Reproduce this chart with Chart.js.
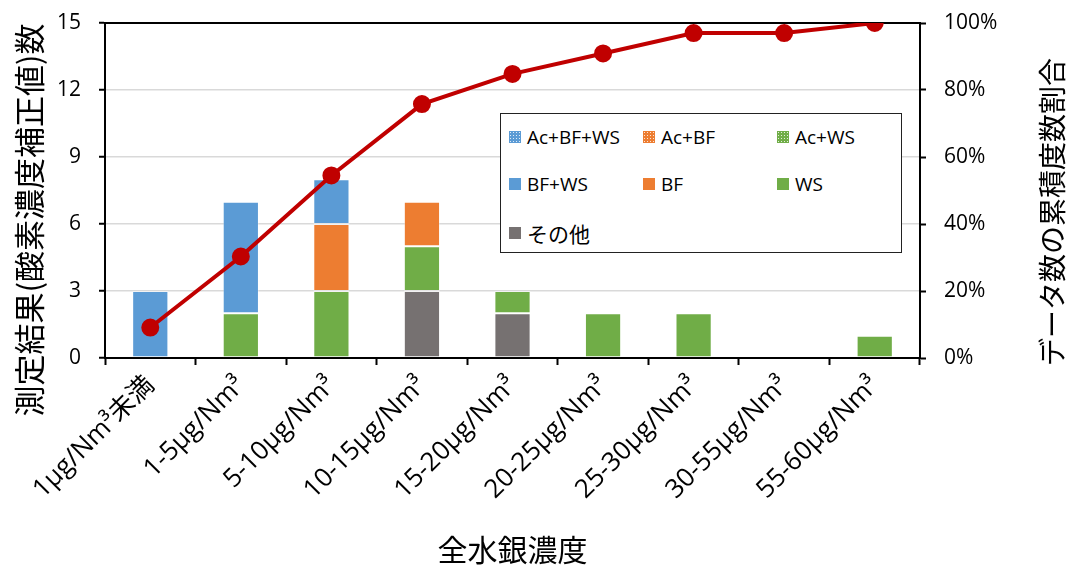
<!DOCTYPE html>
<html>
<head>
<meta charset="utf-8">
<script src="https://cdn.jsdelivr.net/npm/chart.js@4.4.0/dist/chart.umd.min.js"></script>
<style>
  body { margin: 0; background: #fff; }
  #wrap { position: relative; width: 1076px; height: 570px; }
  #legend {
    position: absolute; left: 500px; top: 113px; width: 400px; height: 138px;
    border: 1.5px solid #222; background: #fff;
    font-family: "Open Sans", "Noto Sans CJK JP", sans-serif; font-size: 19px; color: #000;
  }
  .item { position: absolute; display: flex; align-items: center; white-space: nowrap; }
  .sw { width: 12px; height: 12px; margin-right: 6px; }
</style>
</head>
<body>
<div id="wrap">
  <canvas id="myChart" width="1076" height="570"></canvas>
  <div id="legend"></div>
</div>
<script>
// categories
const labels = ["1μg/Nm³未満", "1-5μg/Nm³", "5-10μg/Nm³", "10-15μg/Nm³", "15-20μg/Nm³",
  "20-25μg/Nm³", "25-30μg/Nm³", "30-55μg/Nm³", "55-60μg/Nm³"];

// counts per category
const sonota  = [0, 0, 0, 3, 2, 0, 0, 0, 0];
const ws      = [0, 2, 3, 2, 1, 2, 2, 0, 1];
const bf      = [0, 0, 3, 2, 0, 0, 0, 0, 0];
const bfws    = [3, 5, 2, 0, 0, 0, 0, 0, 0];
const acws    = [0, 0, 0, 0, 0, 0, 0, 0, 0];
const acbf    = [0, 0, 0, 0, 0, 0, 0, 0, 0];
const acbfws  = [0, 0, 0, 0, 0, 0, 0, 0, 0];

// cumulative share (%)
const cumulative = [9.1, 30.3, 54.5, 75.8, 84.8, 90.9, 97.0, 97.0, 100];

const leftTicks = [0, 3, 6, 9, 12, 15];
const rightTicks = [0, 20, 40, 60, 80, 100];

const tickFont = { family: "'Open Sans', 'Noto Sans CJK JP', sans-serif", size: 21 };

function dotted(color) {
  const c = document.createElement("canvas");
  c.width = 4; c.height = 4;
  const g = c.getContext("2d");
  g.fillStyle = color; g.fillRect(0, 0, 4, 4);
  g.fillStyle = "rgba(255,255,255,0.8)";
  g.fillRect(0, 0, 1, 1); g.fillRect(2, 2, 1, 1);
  return c;
}

const ctx = document.getElementById("myChart").getContext("2d");

function bar(label, data, color, pattern) {
  return {
    type: "bar", label: label, data: data, order: 1,
    backgroundColor: pattern ? ctx.createPattern(dotted(color), "repeat") : color,
    swatch: color, pattern: !!pattern,
    borderColor: "rgba(255,255,255,0.3)", borderWidth: 1, borderSkipped: false,
    barPercentage: 0.4, categoryPercentage: 1.0, yAxisID: "y"
  };
}

// order of legend entries (row by row)
const legendOrder = ["Ac+BF+WS", "Ac+BF", "Ac+WS", "BF+WS", "BF", "WS", "その他"];

function vText(c, text, x, y, size) {
  c.save();
  c.fillStyle = "#000"; c.font = size + "px 'Noto Sans CJK JP', sans-serif";
  c.textAlign = "center"; c.textBaseline = "middle";
  c.translate(x, y); c.rotate(-Math.PI / 2);
  c.fillText(text, 0, 0);
  c.restore();
}

const frame = {
  id: "frame",
  beforeDatasetsDraw(chart) {
    const a = chart.chartArea, c = chart.ctx;
    c.save();
    c.strokeStyle = "#000"; c.lineWidth = 2;
    c.strokeRect(a.left, a.top, a.right - a.left, a.bottom - a.top);
    c.restore();
  },
  afterDraw(chart) {
    vText(chart.ctx, "測定結果(酸素濃度補正値)数", 29, 220, 31);
    vText(chart.ctx, "データ数の累積度数割合", 1052, 212, 28);
  }
};

const chart = new Chart(ctx, {
  data: {
    labels: labels,
    datasets: [
      {
        type: "line", label: "累積", data: cumulative, yAxisID: "y1", order: 0,
        borderColor: "#c00000", backgroundColor: "#c00000", borderWidth: 4,
        pointRadius: 7, pointHoverRadius: 7, tension: 0
      },
      bar("その他", sonota, "#767171"),
      bar("WS", ws, "#70ad47"),
      bar("BF", bf, "#ed7d31"),
      bar("BF+WS", bfws, "#5b9bd5"),
      bar("Ac+WS", acws, "#70ad47", true),
      bar("Ac+BF", acbf, "#ed7d31", true),
      bar("Ac+BF+WS", acbfws, "#5b9bd5", true)
    ]
  },
  options: {
    responsive: false,
    animation: false,
    layout: { padding: { top: 23, left: 0, right: 0, bottom: 0 } },
    plugins: { legend: { display: false }, tooltip: { enabled: false } },
    scales: {
      x: {
        stacked: true,
        offset: true,
        grid: { offset: true, drawOnChartArea: false, tickColor: "#000", tickLength: 7, tickWidth: 2 },
        border: { color: "#000", width: 2 },
        ticks: { color: "#000", font: { family: tickFont.family, size: 26 }, minRotation: 45, maxRotation: 45, padding: 5 },
        title: { display: true, text: "全水銀濃度", color: "#000",
          font: { family: "'Noto Sans CJK JP', sans-serif", size: 30 }, padding: { top: 4, bottom: 2 } },
        afterFit(s) { s.height = 212; }
      },
      y: {
        stacked: true, min: 0, max: 15,
        afterBuildTicks(s) { s.ticks = leftTicks.map(v => ({ value: v })); },
        grid: { color: "#d9d9d9", lineWidth: 1.5, tickColor: "#000", tickLength: 6, tickWidth: 2 },
        border: { color: "#000", width: 2 },
        ticks: { color: "#000", font: tickFont, padding: 18 },
        afterFit(s) { s.width = 105; s.paddingTop = 0; s.paddingBottom = 0; }
      },
      y1: {
        position: "right", min: 0, max: 100,
        afterBuildTicks(s) { s.ticks = rightTicks.map(v => ({ value: v })); },
        grid: { drawOnChartArea: false, tickColor: "#000", tickLength: 6, tickWidth: 2 },
        border: { color: "#000", width: 2 },
        ticks: { color: "#000", font: tickFont, padding: 18, callback: v => v + "%" },
        afterFit(s) { s.width = 156; s.paddingTop = 0; s.paddingBottom = 0; }
      }
    }
  },
  plugins: [frame]
});

// html legend built from the bar datasets
const legend = document.getElementById("legend");
legendOrder.forEach((name, i) => {
  const ds = chart.data.datasets.find(d => d.label === name);
  const it = document.createElement("div");
  it.className = "item";
  it.style.left = (8 + (i % 3) * 134) + "px";
  it.style.top = (10 + Math.floor(i / 3) * 47) + "px";
  const sw = document.createElement("span");
  sw.className = "sw";
  sw.style.backgroundColor = ds.swatch;
  if (ds.pattern) {
    sw.style.backgroundImage = "radial-gradient(rgba(255,255,255,0.8) 0.6px, transparent 0.9px)";
    sw.style.backgroundSize = "3px 3px";
  }
  const tx = document.createElement("span");
  tx.textContent = name;
  if (name === "その他") tx.style.fontSize = "21px";
  it.appendChild(sw); it.appendChild(tx);
  legend.appendChild(it);
});
</script>
</body>
</html>
